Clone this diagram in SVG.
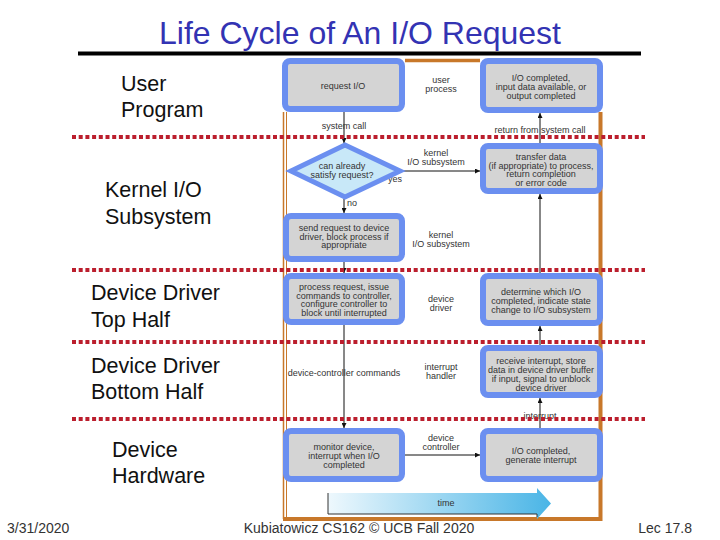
<svg xmlns="http://www.w3.org/2000/svg" width="720" height="540" viewBox="0 0 720 540">
<defs>
<style>
.title{font-family:"Liberation Sans",Arial,sans-serif;font-size:32px;fill:#3333B3}
.lab{font-family:"Liberation Sans",Arial,sans-serif;font-size:21.5px;fill:#111}
.foot{font-family:"Liberation Sans",Arial,sans-serif;font-size:14px;fill:#333}
.t{font-family:"Liberation Sans",Arial,sans-serif;font-size:9px;fill:#333;text-anchor:middle}
.box{fill:#D4D4D4;stroke:#6B8FF0;stroke-width:6}
.dia{fill:#C8E8F8;stroke:#6B8FF0;stroke-width:5}
.edge{stroke:#111;stroke-width:1;fill:none}
.sep{stroke:#BB1E2D;stroke-width:4;stroke-dasharray:4 2.7}
.frame{stroke:#C8782A;fill:none}
</style>
<marker id="ah" viewBox="0 0 10 10" refX="10" refY="5" markerWidth="5" markerHeight="5" orient="auto" markerUnits="userSpaceOnUse">
<path d="M0,0 L10,5 L0,10 z" fill="#111"/>
</marker>
<linearGradient id="tg" x1="0" y1="0" x2="1" y2="0">
<stop offset="0" stop-color="#EEF8FD"/>
<stop offset="1" stop-color="#4AB5E6"/>
</linearGradient>
</defs>
<rect width="720" height="540" fill="#fff"/>
<text class="title" x="360" y="44" text-anchor="middle">Life Cycle of An I/O Request</text>
<rect x="78" y="51.5" width="563" height="4" fill="#000"/>

<g id="frame">
<line class="frame" x1="405" y1="60.5" x2="480" y2="60.5" stroke-width="3.5"/>
<line class="frame" x1="600.5" y1="112" x2="600.5" y2="521" stroke-width="4"/>
<line class="frame" x1="283" y1="519" x2="602" y2="519" stroke-width="4"/>
<line class="frame" x1="283.5" y1="112" x2="283.5" y2="519" stroke-width="1.5" stroke="#D9A050"/>
<line class="frame" x1="286.5" y1="112" x2="286.5" y2="517" stroke-width="1" stroke="#D9A050"/>
</g>

<g id="time">
<polygon points="328,493 537,493 537,488 551,503.5 537,519 537,514 328,514" fill="url(#tg)"/>
<polyline points="328,493 328,514 537,514 537,517" fill="none" stroke="#333" stroke-width="1"/>
<text class="t" x="446" y="506">time</text>
</g>

<g id="connectors">
<line class="edge" x1="344" y1="112" x2="344" y2="143" marker-end="url(#ah)"/>
<line class="edge" x1="540" y1="143" x2="540" y2="113" marker-end="url(#ah)"/>
<line class="edge" x1="402" y1="171" x2="480" y2="171" marker-end="url(#ah)"/>
<line class="edge" x1="344" y1="199" x2="344" y2="213" marker-end="url(#ah)"/>
<line class="edge" x1="344" y1="262" x2="344" y2="273" marker-end="url(#ah)"/>
<line class="edge" x1="540" y1="273" x2="540" y2="194" marker-end="url(#ah)"/>
<line class="edge" x1="344" y1="325" x2="344" y2="428" marker-end="url(#ah)"/>
<line class="edge" x1="540" y1="345" x2="540" y2="326" marker-end="url(#ah)"/>
<line class="edge" x1="540" y1="428" x2="540" y2="398" marker-end="url(#ah)"/>
<line class="edge" x1="405" y1="455" x2="480" y2="455" marker-end="url(#ah)"/>
<text class="t" x="344" y="129">system call</text>
<text class="t" x="540" y="133">return from system call</text>
<text class="t" x="395" y="182">yes</text>
<text class="t" x="352" y="206">no</text>
<text class="t" x="344" y="376">device-controller commands</text>
<text class="t" x="540" y="419">interrupt</text>
</g>

<g id="n-request">
<rect class="box" x="285" y="61" width="117" height="48" rx="5"/>
<text class="t" x="343" y="89">request I/O</text>
</g>
<g id="n-completed">
<rect class="box" x="483" y="61" width="117" height="49" rx="5"/>
<text class="t" x="541" y="81">I/O completed,</text>
<text class="t" x="541" y="90">input data available, or</text>
<text class="t" x="541" y="99">output completed</text>
</g>
<g id="n-satisfy">
<polygon class="dia" points="291,171 345,145 400,171 345,197"/>
<text class="t" x="342" y="169">can already</text>
<text class="t" x="342" y="178">satisfy request?</text>
</g>
<g id="n-transfer">
<rect class="box" x="483" y="146" width="117" height="45" rx="5"/>
<text class="t" x="541" y="160">transfer data</text>
<text class="t" x="541" y="168.5">(if appropriate) to process,</text>
<text class="t" x="541" y="177">return completion</text>
<text class="t" x="541" y="186">or error code</text>
</g>
<g id="n-send">
<rect class="box" x="286" y="216" width="116" height="43" rx="5"/>
<text class="t" x="344" y="231">send request to device</text>
<text class="t" x="344" y="239.5">driver, block process if</text>
<text class="t" x="344" y="248">appropriate</text>
</g>
<g id="n-process">
<rect class="box" x="286" y="276" width="116" height="46" rx="5"/>
<text class="t" x="344" y="290">process request, issue</text>
<text class="t" x="344" y="298.5">commands to controller,</text>
<text class="t" x="344" y="307">configure controller to</text>
<text class="t" x="344" y="316">block until interrupted</text>
</g>
<g id="n-determine">
<rect class="box" x="483" y="276" width="117" height="47" rx="5"/>
<text class="t" x="541" y="295">determine which I/O</text>
<text class="t" x="541" y="304">completed, indicate state</text>
<text class="t" x="541" y="312.5">change to I/O subsystem</text>
</g>
<g id="n-receive">
<rect class="box" x="483" y="348" width="117" height="47" rx="5"/>
<text class="t" x="541" y="364">receive interrupt, store</text>
<text class="t" x="541" y="373">data in device driver buffer</text>
<text class="t" x="541" y="382">if input, signal to unblock</text>
<text class="t" x="541" y="391">device driver</text>
</g>
<g id="n-monitor">
<rect class="box" x="286" y="431" width="116" height="48" rx="5"/>
<text class="t" x="344" y="450">monitor device,</text>
<text class="t" x="344" y="459">interrupt when I/O</text>
<text class="t" x="344" y="468">completed</text>
</g>
<g id="n-generate">
<rect class="box" x="483" y="431" width="117" height="48" rx="5"/>
<text class="t" x="541" y="454">I/O completed,</text>
<text class="t" x="541" y="462.5">generate interrupt</text>
</g>

<g id="layer-labels">
<text class="t" x="441" y="83">user</text>
<text class="t" x="441" y="92">process</text>
<text class="t" x="436" y="156">kernel</text>
<text class="t" x="436" y="165">I/O subsystem</text>
<text class="t" x="441" y="238">kernel</text>
<text class="t" x="441" y="247">I/O subsystem</text>
<text class="t" x="441" y="302">device</text>
<text class="t" x="441" y="311">driver</text>
<text class="t" x="441" y="370">interrupt</text>
<text class="t" x="441" y="379">handler</text>
<text class="t" x="441" y="441">device</text>
<text class="t" x="441" y="450">controller</text>
</g>

<g id="separators">
<line class="sep" x1="72" y1="137" x2="645" y2="137"/>
<line class="sep" x1="72" y1="270" x2="645" y2="270"/>
<line class="sep" x1="72" y1="342" x2="645" y2="342"/>
<line class="sep" x1="72" y1="419" x2="645" y2="419"/>
</g>

<g id="left-labels">
<text class="lab" x="121" y="91">User</text>
<text class="lab" x="121" y="117">Program</text>
<text class="lab" x="105" y="197">Kernel I/O</text>
<text class="lab" x="105" y="224">Subsystem</text>
<text class="lab" x="91" y="300">Device Driver</text>
<text class="lab" x="91" y="327">Top Half</text>
<text class="lab" x="91" y="373">Device Driver</text>
<text class="lab" x="91" y="399">Bottom Half</text>
<text class="lab" x="112" y="457">Device</text>
<text class="lab" x="112" y="483">Hardware</text>
</g>

<g id="footer">
<text class="foot" x="7" y="533">3/31/2020</text>
<text class="foot" x="359" y="533" text-anchor="middle">Kubiatowicz CS162 © UCB Fall 2020</text>
<text class="foot" x="692" y="533" text-anchor="end">Lec 17.8</text>
</g>
</svg>
